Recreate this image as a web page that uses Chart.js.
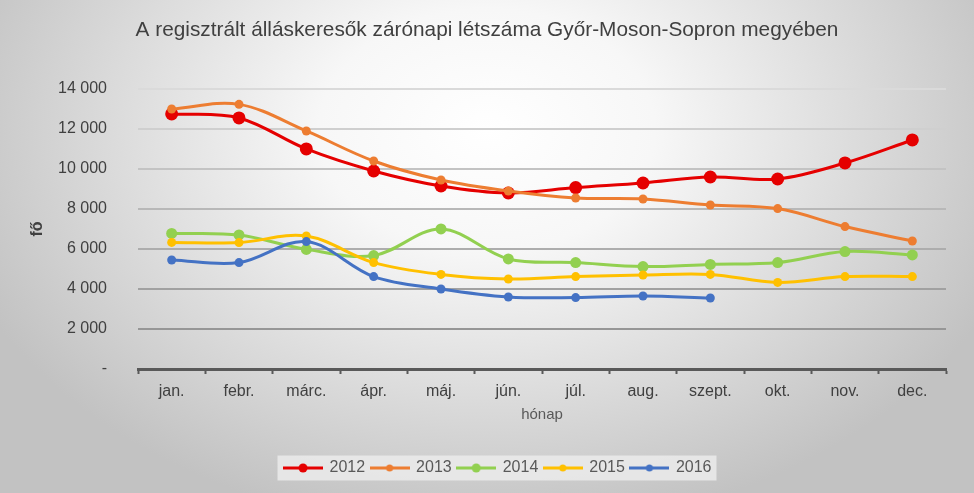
<!DOCTYPE html>
<html>
<head>
<meta charset="utf-8">
<script src="https://cdn.jsdelivr.net/npm/chart.js@4.4.1/dist/chart.umd.min.js"></script>
<style>
    html, body { margin: 0; padding: 0; background: #d0d0d0; }
    #wrap { width: 974px; height: 493px; }
</style>
</head>
<body>
<div id="wrap"><canvas id="allaskeresok" width="974" height="493"></canvas></div>
<script>
var months = ['jan.', 'febr.', 'márc.', 'ápr.', 'máj.', 'jún.', 'júl.', 'aug.', 'szept.', 'okt.', 'nov.', 'dec.'];
var data2012 = [12750, 12550, 11000, 9900, 9150, 8800, 9070, 9300, 9600, 9500, 10300, 11450];
var data2013 = [13000, 13230, 11900, 10400, 9450, 8900, 8550, 8500, 8200, 8020, 7120, 6400];
var data2014 = [6780, 6700, 5980, 5670, 7000, 5500, 5320, 5120, 5230, 5320, 5870, 5700];
var data2015 = [6330, 6320, 6650, 5320, 4730, 4500, 4620, 4700, 4730, 4330, 4620, 4620];
var data2016 = [5450, 5320, 6370, 4620, 4000, 3600, 3570, 3650, 3550, null, null, null];
var yMin = 0;
var yMax = 14000;
var yStep = 2000;

Chart.defaults.font.family = "'Liberation Sans', Arial, sans-serif";

// line + dot icons for the legend, like Excel draws them
function legendIcon(color, r) {
    var c = document.createElement('canvas');
    c.width = 40;
    c.height = 14;
    var ctx = c.getContext('2d');
    ctx.strokeStyle = color;
    ctx.lineWidth = 3;
    ctx.beginPath();
    ctx.moveTo(0, 7);
    ctx.lineTo(40, 7);
    ctx.stroke();
    ctx.fillStyle = color;
    ctx.beginPath();
    ctx.arc(20, 7, r, 0, Math.PI * 2);
    ctx.fill();
    return c;
}
var icons = [
    legendIcon('#E50000', 4.5),
    legendIcon('#ED7D31', 3.5),
    legendIcon('#92D050', 4.5),
    legendIcon('#FFC000', 3.5),
    legendIcon('#4472C4', 3.5)
];

function thousands(v) {
    if (v === 0) return '-';
    return String(v).replace(/\B(?=(\d{3})+(?!\d))/g, ' ');
}

var background = {
    id: 'background',
    afterLayout: function (chart) {
        // title sits on the canvas centre, legend a bit right of it (as in Excel)
        if (chart.titleBlock) {
            chart.titleBlock.left += 14;
            chart.titleBlock.right += 14;
        }
        if (chart.legend) {
            chart.legend.left += 25;
            chart.legend.right += 25;
        }
    },
    beforeDraw: function (chart) {
        var ctx = chart.ctx;
        var w = chart.width, h = chart.height;
        ctx.save();
        ctx.translate(w / 2, 130);
        ctx.scale(1, 0.72);
        var g = ctx.createRadialGradient(0, 0, 0, 0, 0, 560);
        g.addColorStop(0, '#ffffff');
        g.addColorStop(0.3, '#f7f7f7');
        g.addColorStop(1, '#c2c2c2');
        ctx.fillStyle = g;
        ctx.fillRect(-w, -h * 2, w * 2, h * 4);
        ctx.restore();

        var boxes = chart.legend && chart.legend.legendHitBoxes;
        if (boxes && boxes.length) {
            var left = boxes[0].left, right = 0, cy = boxes[0].top + boxes[0].height / 2;
            boxes.forEach(function (b) {
                left = Math.min(left, b.left);
                right = Math.max(right, b.left + b.width);
            });
            ctx.save();
            ctx.fillStyle = 'rgba(235,235,235,0.85)';
            ctx.fillRect(left - 7, cy - 12.5, right - left + 12, 25);
            ctx.restore();
        }
    }
};

function gridColor(ctx) {
    var v = ctx.tick ? ctx.tick.value : 0;
    if (v === 0) return 'rgba(0,0,0,0)';
    var t = (v - yStep) / (yMax - yStep);
    var c = Math.round(150 + t * 68);
    return 'rgb(' + c + ',' + c + ',' + c + ')';
}

var chart = new Chart(document.getElementById('allaskeresok'), {
    type: 'line',
    plugins: [background],
    data: {
        labels: months,
        datasets: [
            {
                label: '2012',
                data: data2012,
                borderColor: '#E50000',
                backgroundColor: '#E50000',
                borderWidth: 3,
                tension: 0.35,
                pointRadius: 6.5,
                pointBorderWidth: 0,
                order: 4
            },
            {
                label: '2013',
                data: data2013,
                borderColor: '#ED7D31',
                backgroundColor: '#ED7D31',
                borderWidth: 3,
                tension: 0.35,
                pointRadius: 4.5,
                pointBorderWidth: 0,
                order: 3
            },
            {
                label: '2014',
                data: data2014,
                borderColor: '#92D050',
                backgroundColor: '#92D050',
                borderWidth: 3,
                tension: 0.35,
                pointRadius: 5.5,
                pointBorderWidth: 0,
                order: 2
            },
            {
                label: '2015',
                data: data2015,
                borderColor: '#FFC000',
                backgroundColor: '#FFC000',
                borderWidth: 3,
                tension: 0.35,
                pointRadius: 4.5,
                pointBorderWidth: 0,
                order: 1
            },
            {
                label: '2016',
                data: data2016,
                borderColor: '#4472C4',
                backgroundColor: '#4472C4',
                borderWidth: 3,
                tension: 0.35,
                pointRadius: 4.5,
                pointBorderWidth: 0,
                spanGaps: false,
                order: 0
            }
        ]
    },
    options: {
        responsive: false,
        animation: false,
        layout: {
            padding: { left: 0, right: 28, top: 0, bottom: 7 }
        },
        plugins: {
            title: {
                display: true,
                text: 'A regisztrált álláskeresők zárónapi létszáma Győr-Moson-Sopron megyében',
                color: '#404040',
                font: { size: 20.8, weight: 'normal' },
                padding: { top: 17.5, bottom: 46.5 }
            },
            legend: {
                position: 'bottom',
                labels: {
                    color: '#595959',
                    font: { size: 16 },
                    usePointStyle: true,
                    pointStyleWidth: 37,
                    padding: 6,
                    sort: function (a, b) { return a.datasetIndex - b.datasetIndex; },
                    generateLabels: function (chart) {
                        var items = Chart.defaults.plugins.legend.labels.generateLabels(chart);
                        items.forEach(function (it) {
                            it.pointStyle = icons[it.datasetIndex];
                            it.rotation = 0;
                        });
                        return items;
                    }
                }
            },
            tooltip: { enabled: false }
        },
        scales: {
            x: {
                offset: true,
                grid: {
                    offset: true,
                    drawOnChartArea: false,
                    drawTicks: true,
                    tickLength: 5,
                    tickWidth: 2,
                    tickColor: '#595959'
                },
                border: { color: '#595959', width: 3 },
                ticks: {
                    color: '#404040',
                    font: { size: 16 },
                    padding: 8,
                    maxRotation: 0,
                    autoSkip: false
                },
                title: {
                    display: true,
                    text: 'hónap',
                    color: '#595959',
                    font: { size: 15 },
                    padding: { top: 4, bottom: 30 }
                },
                afterFit: function (scale) { scale.height = 85; }
            },
            y: {
                min: yMin,
                max: yMax,
                grid: {
                    color: gridColor,
                    lineWidth: 2,
                    drawTicks: false
                },
                border: { display: false },
                ticks: {
                    stepSize: yStep,
                    color: '#404040',
                    font: { size: 16 },
                    padding: 31,
                    callback: function (v) { return thousands(v); }
                },
                title: {
                    display: true,
                    text: 'fő',
                    color: '#404040',
                    font: { size: 16, weight: 'bold' },
                    padding: { top: 28, bottom: 0 }
                },
                afterFit: function (scale) { scale.width = 138; }
            }
        }
    }
});
</script>
</body>
</html>
